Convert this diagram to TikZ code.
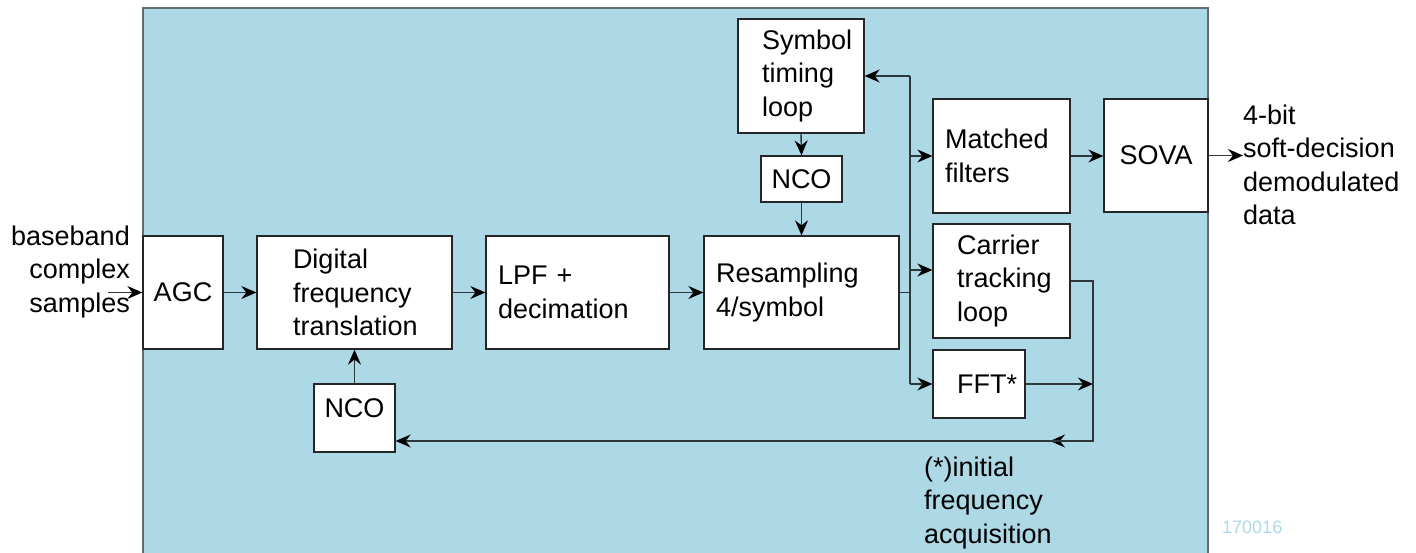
\documentclass[tikz,border=0pt]{standalone}
\usepackage{fontspec}
\setmainfont{Liberation Sans}
\usetikzlibrary{arrows.meta}
\definecolor{bgblue}{RGB}{173,216,230}
\definecolor{bgedge}{RGB}{96,110,115}
\definecolor{lncol}{RGB}{45,55,60}
\definecolor{idcol}{RGB}{173,216,230}
\begin{document}
\begin{tikzpicture}[x=1pt,y=-1pt,
  font=\fontsize{27}{33.5}\selectfont,
  ln/.style={draw=lncol,line width=1.4pt},
  arr/.style={ln,-{Stealth[length=15pt 0,width=13pt 0,inset=5pt 0,color=black]}},
  blk/.style={draw=black!85,fill=white,line width=1.3pt,inner ysep=2pt},
  txt/.style={inner sep=0pt}
]
\useasboundingbox (0,0) rectangle (1416,553);
% background panel
\fill[bgblue] (143,8) rectangle (1208,553);
\draw[bgedge,line width=1.4pt] (143,553) -- (143,8) -- (1208,8) -- (1208,553);

% blocks
\node[blk,minimum width=80pt,minimum height=113pt,text width=72pt,inner xsep=4pt,align=center] (agc) at (183,292.5) {AGC};
\node[blk,minimum width=195pt,minimum height=113pt,text width=123pt,inner xsep=36pt,align=left] (dft) at (354.5,292.5) {Digital\\frequency\\translation};
\node[blk,minimum width=183pt,minimum height=113pt,text width=159pt,inner xsep=12pt,align=left] (lpf) at (577.5,292.5) {LPF +\\decimation};
\node[blk,minimum width=195pt,minimum height=113pt,text width=171pt,inner xsep=12pt,align=left] (res) at (801.5,292.5) {Resampling\\4/symbol};
\node[blk,minimum width=126pt,minimum height=114pt,text width=78pt,inner xsep=24pt,align=left] (sym) at (801,76) {Symbol\\timing\\loop};
\node[blk,minimum width=81pt,minimum height=46pt,text width=73pt,inner xsep=4pt,align=center] (ncoT) at (801.5,179) {NCO};
\node[blk,minimum width=137pt,minimum height=114pt,text width=113pt,inner xsep=12pt,align=left] (mf) at (1001.5,156) {Matched\\filters};
\node[blk,minimum width=137pt,minimum height=114pt,text width=89pt,inner xsep=24pt,align=left] (car) at (1001.5,281) {Carrier\\tracking\\loop};
\node[blk,minimum width=92pt,minimum height=68pt,text width=44pt,inner xsep=24pt,align=left] (fft) at (979,384) {FFT*};
\node[blk,minimum width=104pt,minimum height=113pt,text width=96pt,inner xsep=4pt,align=center] (sova) at (1156,155.5) {SOVA};
\node[blk,minimum width=81pt,minimum height=68pt,text width=73pt,inner xsep=4pt,align=center,text height=19pt,text depth=20pt] (ncoB) at (354.5,418) {NCO};

% outside texts
\node[txt,anchor=east,align=right] (inT) at (130,272) {baseband\\complex\\samples};
\node[txt,anchor=west,align=left] (outT) at (1243,165) {4-bit\\soft-decision\\demodulated\\data};
\node[txt,anchor=west,align=left] (acqT) at (924,503) {(*)initial\\frequency\\acquisition};
\node[txt,anchor=west,text=idcol,font=\fontsize{18}{20}\selectfont] (idT) at (1222,527) {170016};

% helper coordinates
\coordinate (in) at (108,292.5);
\coordinate (bm) at (910,292.5);
\coordinate (b1) at (910,76);
\coordinate (b2) at (910,156);
\coordinate (b3) at (910,270);
\coordinate (b4) at (910,384);
\coordinate (jc) at (1093,281);
\coordinate (jf) at (1093,384);
\coordinate (jb) at (1093,441);
\coordinate (mid) at (1050,441);

% main chain
\draw[arr] (in) -- (agc.west);
\draw[arr] (agc.east) -- (dft.west);
\draw[arr] (dft.east) -- (lpf.west);
\draw[arr] (lpf.east) -- (res.west);
\draw[ln] (res.east) -- (bm);
\draw[ln] (b1) -- (b4);
\draw[arr] (b1) -- (sym.east);
\draw[arr] (b2) -- (mf.west);
\draw[arr] (b3) -- (car.west |- b3);
\draw[arr] (b4) -- (fft.west);
\draw[arr] (sym.south) -- (ncoT.north);
\draw[arr] (ncoT.south) -- (res.north);
\draw[arr] (mf.east) -- (sova.west |- mf.east);
\draw[arr] (sova.east) -- (outT.west |- sova.east);

% frequency feedback
\draw[arr] (car.east) -- (jc) -- (jb) -- (mid);
\draw[arr] (fft.east) -- (jf);
\draw[arr] (jb) -- (ncoB.east |- jb);
\draw[arr] (ncoB.north) -- (dft.south);
\end{tikzpicture}
\end{document}
